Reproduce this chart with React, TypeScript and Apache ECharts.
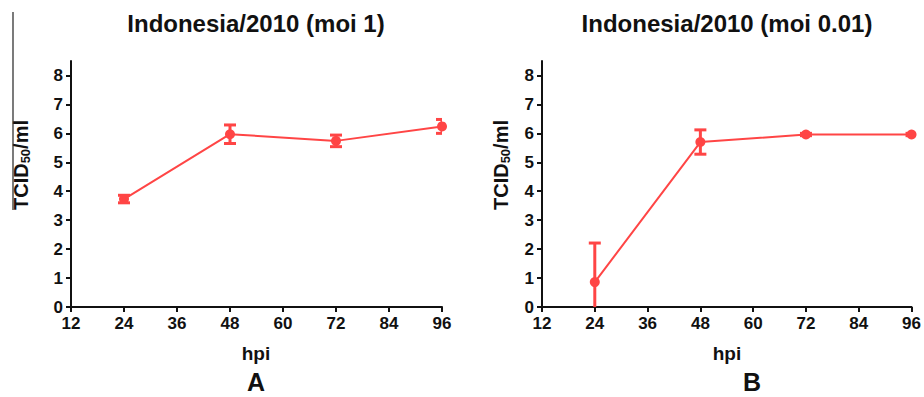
import React, { useEffect, useRef } from "react";
import * as echarts from "echarts";

const hours = [24, 48, 72, 96];
const meanA = [3.73, 5.97, 5.74, 6.24];
const errA = [0.13, 0.32, 0.2, 0.24];
const meanB = [0.86, 5.7, 5.96, 5.96];
const errB = [1.35, 0.42, 0.04, 0.04];
const xTicks = [12, 24, 36, 48, 60, 72, 84, 96];
const yTicks = [0, 1, 2, 3, 4, 5, 6, 7, 8];
const titleA = "Indonesia/2010 (moi 1)";
const titleB = "Indonesia/2010 (moi 0.01)";

const RED = "#ff4545";
const FONT = "'Liberation Sans', Arial, sans-serif";

export default function App() {
  const ref = useRef<HTMLDivElement>(null);
  useEffect(() => {
    if (!ref.current) return;
    const chart = echarts.init(ref.current, undefined, { renderer: "svg" });

    const mkX = (gi: number) => ({
      type: "value",
      gridIndex: gi,
      min: xTicks[0],
      max: xTicks[xTicks.length - 1],
      interval: 12,
      axisLine: { show: true, onZero: false, lineStyle: { color: "#111", width: 2 } },
      axisTick: { show: true, length: 5, lineStyle: { color: "#111", width: 2 } },
      axisLabel: { color: "#111", fontFamily: FONT, fontWeight: "bold", fontSize: 17, margin: 8 },
      splitLine: { show: false },
    });
    const mkY = (gi: number) => ({
      type: "value",
      gridIndex: gi,
      min: 0,
      max: 8.5,
      axisLine: { show: true, lineStyle: { color: "#111", width: 2 } },
      axisTick: { show: true, length: 5, customValues: yTicks, lineStyle: { color: "#111", width: 2 } },
      axisLabel: { color: "#111", fontFamily: FONT, fontWeight: "bold", fontSize: 17, margin: 8, customValues: yTicks },
      splitLine: { show: false },
    });

    const errRender = (params: any, api: any) => {
      const x = api.value(0);
      const y = api.value(1);
      const e = api.value(2);
      const top = api.coord([x, y + e]);
      const bot = api.coord([x, y - e]);
      const hw = 6;
      const st = { stroke: RED, lineWidth: 3 };
      return {
        type: "group",
        children: [
          { type: "line", shape: { x1: top[0], y1: top[1], x2: bot[0], y2: bot[1] }, style: st },
          { type: "line", shape: { x1: top[0] - hw, y1: top[1], x2: top[0] + hw, y2: top[1] }, style: st },
          { type: "line", shape: { x1: bot[0] - hw, y1: bot[1], x2: bot[0] + hw, y2: bot[1] }, style: st },
        ],
      };
    };

    const lineSeries = (gi: number, mean: number[]) => ({
      type: "line",
      xAxisIndex: gi,
      yAxisIndex: gi,
      data: hours.map((h, i) => [h, mean[i]]),
      symbol: "circle",
      symbolSize: 10,
      itemStyle: { color: RED },
      lineStyle: { color: RED, width: 2 },
      z: 3,
    });
    const errSeries = (gi: number, mean: number[], err: number[]) => ({
      type: "custom",
      xAxisIndex: gi,
      yAxisIndex: gi,
      clip: true,
      data: hours.map((h, i) => [h, mean[i], err[i]]),
      renderItem: errRender,
      z: 4,
    });

    const txt = (text: string, x: number, y: number, size: number) => ({
      type: "text",
      x,
      y,
      style: {
        text,
        fontFamily: FONT,
        fontWeight: "bold",
        fontSize: size,
        fill: "#111",
        textAlign: "center",
        textVerticalAlign: "middle",
      },
    });
    const ylab = (x: number, y: number) => ({
      type: "text",
      x,
      y,
      rotation: Math.PI / 2,
      style: {
        text: "{b|TCID}{s|50}{b|/ml}",
        textAlign: "center",
        textVerticalAlign: "middle",
        fill: "#111",
        rich: {
          b: { fontFamily: FONT, fontWeight: "bold", fontSize: 20, fill: "#111", lineHeight: 22 },
          s: { fontFamily: FONT, fontWeight: "bold", fontSize: 13, fill: "#111", verticalAlign: "bottom", lineHeight: 22, padding: [6, 0, 0, 0] },
        },
      },
    });

    chart.setOption({
      animation: false,
      backgroundColor: "#fff",
      grid: [
        { left: 71, top: 61, width: 371, height: 246 },
        { left: 542, top: 61, width: 370, height: 246 },
      ],
      xAxis: [mkX(0), mkX(1)],
      yAxis: [mkY(0), mkY(1)],
      series: [lineSeries(0, meanA), errSeries(0, meanA, errA), lineSeries(1, meanB), errSeries(1, meanB, errB)],
      graphic: [
        txt(titleA, 256, 23, 24),
        txt(titleB, 727, 23, 24),
        txt("hpi", 256, 353, 19),
        txt("hpi", 727, 353, 19),
        txt("A", 256, 382, 25),
        txt("B", 752, 382, 25),
        ylab(21, 165),
        ylab(501, 165),
        { type: "line", shape: { x1: 13, y1: 12, x2: 13, y2: 210 }, style: { stroke: "#222", lineWidth: 1.2 } },
      ],
    });
    return () => chart.dispose();
  }, []);
  return <div ref={ref} style={{ position: "absolute", left: 0, top: 0, width: 924, height: 397 }} />;
}
